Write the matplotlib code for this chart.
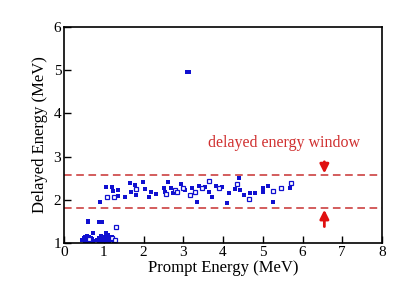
import matplotlib
matplotlib.use('Agg')
import matplotlib.pyplot as plt

plt.rcParams['font.family'] = ['Liberation Serif', 'DejaVu Serif']

# pontos cheios (quadrado preenchido)
x_cheio = [0.90, 1.05, 1.23, 1.22, 1.37, 1.36, 1.54, 1.65, 1.68, 1.78, 1.80, 1.99, 2.05, 2.15,
           2.20, 2.31, 2.52, 2.55, 2.62, 2.68, 2.74, 2.95, 3.04, 3.23, 3.35, 3.40, 3.54, 3.65,
           3.73, 3.83, 3.98, 4.11, 4.15, 4.29, 4.40, 4.42, 4.54, 4.69, 4.80, 5.01, 5.01, 5.13,
           5.26, 5.68, 3.10, 3.14,
           0.60, 0.60, 0.88, 0.92, 0.96, 0.73, 1.05,
           0.48, 0.50, 0.52, 0.55, 0.57, 0.58, 0.60, 0.62, 0.63, 0.65, 0.67, 0.68, 0.70, 0.53,
           0.56, 0.61, 0.66, 0.50, 0.59, 0.64, 0.46, 0.49, 0.54, 0.71, 0.72, 0.58, 0.63,
           0.85, 0.88, 0.90, 0.92, 0.95, 0.97, 1.00, 1.02, 1.04, 1.06, 1.08, 1.10, 1.12, 1.15,
           1.18, 1.20, 1.22, 1.25, 0.93, 0.99, 1.03, 1.09, 1.14, 0.87, 0.96, 1.01, 1.11, 1.17,
           0.83, 0.89, 0.94, 1.07, 1.13, 1.19, 1.24, 1.27, 0.98, 1.05]
y_cheio = [1.96, 2.29, 2.20, 2.30, 2.23, 2.09, 2.07, 2.40, 2.17, 2.34, 2.11, 2.42, 2.24, 2.07,
           2.19, 2.13, 2.28, 2.19, 2.42, 2.27, 2.15, 2.37, 2.23, 2.27, 1.96, 2.32, 2.30, 2.19,
           2.07, 2.32, 2.30, 1.93, 2.15, 2.25, 2.50, 2.23, 2.11, 2.15, 2.15, 2.27, 2.17, 2.32,
           1.96, 2.27, 4.95, 4.95,
           1.52, 1.48, 1.49, 1.49, 1.49, 1.24, 1.22,
           1.08, 1.12, 1.05, 1.10, 1.13, 1.07, 1.09, 1.14, 1.04, 1.11, 1.08, 1.12, 1.06, 1.15,
           1.04, 1.12, 1.07, 1.09, 1.16, 1.05, 1.06, 1.08, 1.07, 1.10, 1.05, 1.04, 1.06,
           1.08, 1.12, 1.06, 1.13, 1.10, 1.04, 1.15, 1.07, 1.12, 1.09, 1.05, 1.14, 1.11, 1.07,
           1.12, 1.08, 1.13, 1.06, 1.17, 1.04, 1.10, 1.16, 1.07, 1.04, 1.12, 1.06, 1.19, 1.09,
           1.06, 1.07, 1.05, 1.07, 1.04, 1.08, 1.10, 1.05, 1.11, 1.18]

# pontos abertos (quadrado vazio)
x_aberto = [1.08, 1.27, 1.82, 2.57, 2.78, 2.84, 2.99, 3.16, 3.29, 3.46, 3.66, 3.89, 4.35,
            4.65, 5.27, 5.47, 5.70, 1.32, 1.20, 1.28, 0.62]
y_aberto = [2.06, 2.07, 2.25, 2.13, 2.23, 2.19, 2.28, 2.11, 2.17, 2.27, 2.44, 2.27, 2.37,
            2.01, 2.21, 2.28, 2.40, 1.36, 1.11, 1.06, 1.10]

janela_sup = 2.58
janela_inf = 1.82

fig = plt.figure(figsize=(4.05, 2.91), dpi=100)
ax = fig.add_axes([64/405, 48/291, 318/405, 216/291])

azul = '#1010d0'
ax.plot(x_cheio, y_cheio, 's', color=azul, markersize=2.8, markeredgewidth=0)
ax.plot(x_aberto, y_aberto, 's', markerfacecolor='white', markeredgecolor=azul,
        markersize=3.3, markeredgewidth=0.9)

# janela de energia
vermelho = '#c83030'
ax.axhline(janela_sup, color=vermelho, linestyle=(0, (5, 3)), linewidth=1.1)
ax.axhline(janela_inf, color=vermelho, linestyle=(0, (5, 3)), linewidth=1.1)
seta = dict(arrowstyle='-|>', color='#e01010', lw=2, mutation_scale=13,
            shrinkA=0, shrinkB=0)
ax.annotate('', xy=(6.55, janela_sup + 0.03), xytext=(6.55, 2.88), arrowprops=seta)
ax.annotate('', xy=(6.55, janela_inf - 0.05), xytext=(6.55, 1.38), arrowprops=seta)
ax.text(5.53, 3.31, 'delayed energy window', color='#d03030', fontsize=11.5,
        ha='center', va='center')

ax.set_xlim(0, 8)
ax.set_ylim(1, 6)
ax.set_xticks(range(0, 9))
ax.set_yticks(range(1, 7))
ax.tick_params(direction='in', length=5, width=1, labelsize=11, pad=2)
for s in ax.spines.values():
    s.set_linewidth(1.2)
ax.set_xlabel('Prompt Energy (MeV)', fontsize=12, labelpad=1)
ax.set_ylabel('Delayed Energy (MeV)', fontsize=12, labelpad=4)

fig.savefig('out.png', dpi=100)
